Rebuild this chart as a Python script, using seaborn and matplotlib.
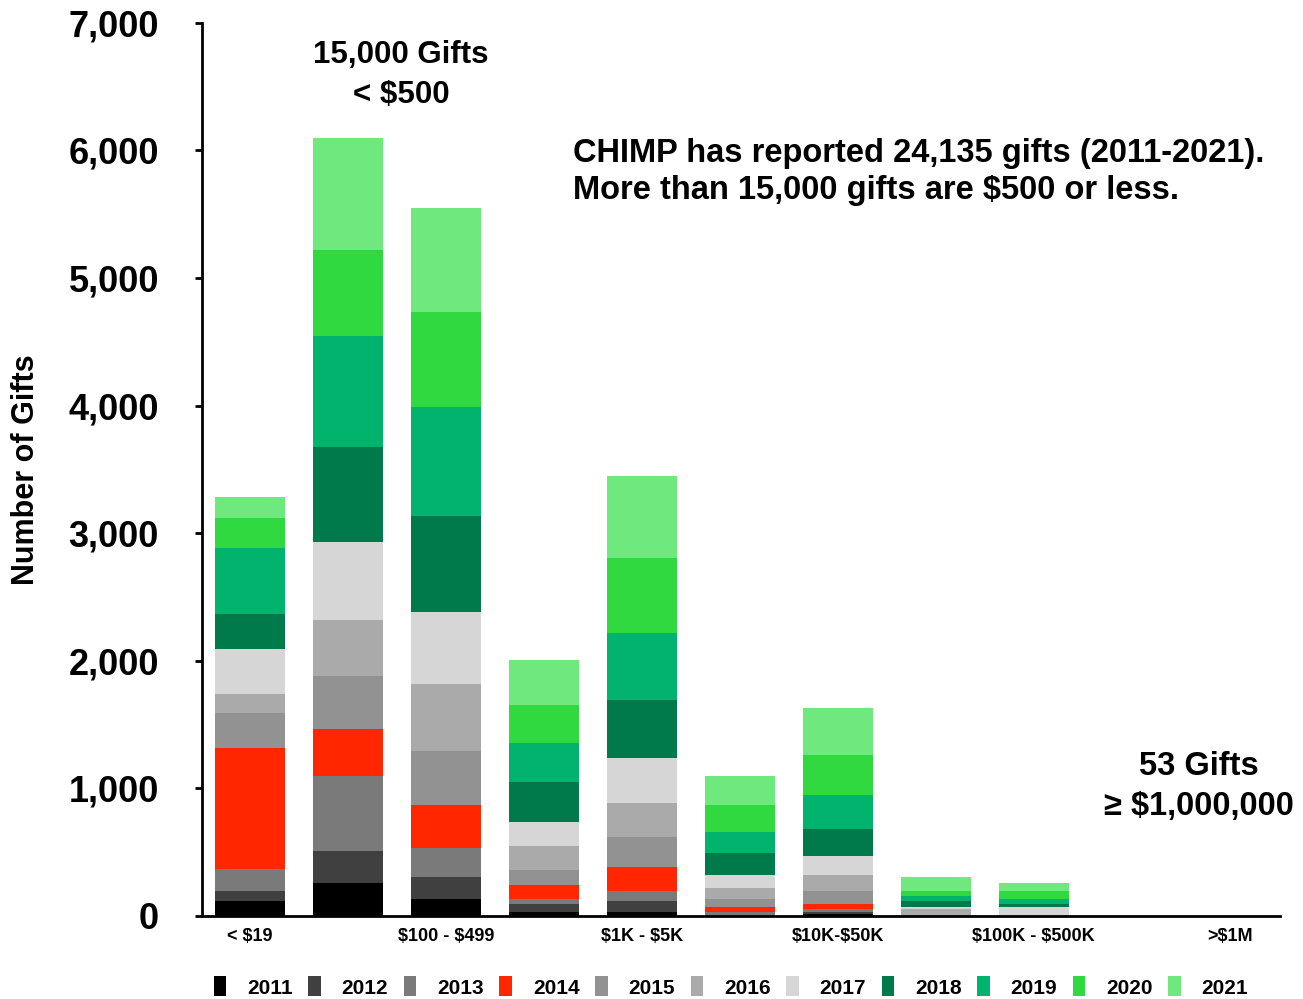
import numpy as np
import matplotlib
matplotlib.use("Agg")
import matplotlib.pyplot as plt
import seaborn as sns
from matplotlib.patches import Patch

categories = ["< $19", "$20 - $99", "$100 - $499", "$500 - $999", "$1K - $5K",
              "$5K - $10K", "$10K-$50K", "$50K - $100K", "$100K - $500K",
              "$500K - $1M", ">$1M"]
tick_labels = ["< $19", "", "$100 - $499", "", "$1K - $5K", "",
               "$10K-$50K", "", "$100K - $500K", "", ">$1M"]

years = ["2011", "2012", "2013", "2014", "2015", "2016",
         "2017", "2018", "2019", "2020", "2021"]
y2011 = [117, 258, 133, 31, 31, 0, 12, 0, 0, 0, 0]
y2012 = [78, 250, 172, 63, 86, 0, 19, 0, 0, 0, 0]
y2013 = [172, 586, 226, 39, 78, 31, 24, 0, 0, 0, 0]
y2014 = [953, 375, 336, 109, 188, 39, 39, 0, 0, 0, 0]
y2015 = [274, 414, 430, 117, 234, 63, 101, 0, 0, 0, 0]
y2016 = [148, 437, 523, 188, 266, 86, 125, 55, 0, 0, 0]
y2017 = [352, 610, 563, 187, 359, 101, 149, 15, 70, 0, 0]
y2018 = [273, 742, 750, 313, 453, 172, 211, 47, 24, 0, 0]
y2019 = [516, 875, 859, 312, 524, 164, 265, 39, 39, 0, 0]
y2020 = [234, 672, 742, 297, 586, 211, 313, 39, 62, 0, 0]
y2021 = [164, 875, 813, 352, 640, 227, 375, 110, 63, 0, 0]
series = [y2011, y2012, y2013, y2014, y2015, y2016, y2017, y2018, y2019, y2020, y2021]

colors = ["#000000", "#404040", "#7A7A7A", "#FF2600", "#929292", "#AAAAAA",
          "#D6D6D6", "#007A4A", "#02B36D", "#30D93F", "#6FE87D"]

ytick_vals = [0, 1000, 2000, 3000, 4000, 5000, 6000, 7000]
ytick_labels = ["0", "1,000", "2,000", "3,000", "4,000", "5,000", "6,000", "7,000"]

sns.set_theme(style="white")
plt.rcParams["font.family"] = ["Liberation Sans", "DejaVu Sans"]
plt.rcParams["font.weight"] = "bold"
for k in ["text.color", "axes.labelcolor", "xtick.color", "ytick.color"]:
    plt.rcParams[k] = "black"


def esc(s):
    return s.replace("$", r"\$")


fig = plt.figure(figsize=(13.03, 9.99), dpi=100)
ax = fig.add_axes([0.155, 0.0831, 0.827, 0.894])

cum = np.cumsum(np.array(series), axis=0)
for i in range(len(years) - 1, -1, -1):
    sns.barplot(x=categories, y=cum[i], order=categories, color=colors[i],
                saturation=1, width=0.714, errorbar=None, ax=ax, linewidth=0)

ax.set_xlim(-0.49, 10.51)
ax.set_ylim(0, 7000)
ax.set_yticks(ytick_vals)
ax.set_yticklabels(ytick_labels, fontsize=26, fontweight="bold")
ax.set_xticks(range(len(categories)))
ax.set_xticklabels([esc(t) for t in tick_labels], fontsize=13, fontweight="bold")
ax.tick_params(axis="x", length=0, pad=9)
ax.tick_params(axis="y", length=5, width=2, direction="out", pad=26, left=True)

for s in ["top", "right"]:
    ax.spines[s].set_visible(False)
for s in ["left", "bottom"]:
    ax.spines[s].set_color("black")
    ax.spines[s].set_linewidth(2)

ax.set_xlabel("")
ax.set_ylabel("Number of Gifts", fontsize=22, fontweight="bold")
ax.yaxis.set_label_coords(-0.149, 0.5)

ax.text(1.54, 6590, esc("15,000 Gifts\n< $500"), ha="center", va="center",
        fontsize=22.5, fontweight="bold", linespacing=1.42)
ax.text(3.296, 5830, esc("CHIMP has reported 24,135 gifts (2011-2021).\nMore than 15,000 gifts are $500 or less."),
        ha="left", va="center", fontsize=23.5, fontweight="bold", linespacing=1.26)
ax.text(9.69, 1012, esc("53 Gifts\n\u2265 $1,000,000"), ha="center", va="center",
        fontsize=23.5, fontweight="bold", linespacing=1.38)

handles = [Patch(facecolor=c, edgecolor="none", label=y) for c, y in zip(colors, years)]
fig.legend(handles=handles, loc="center", bbox_to_anchor=(0.561, 0.012), ncol=11,
           frameon=False, handlelength=0.6, handleheight=1.1,
           handletextpad=1.0, columnspacing=0.75, borderpad=0,
           prop={"weight": "bold", "size": 15})

fig.savefig("out.png", dpi=100)
